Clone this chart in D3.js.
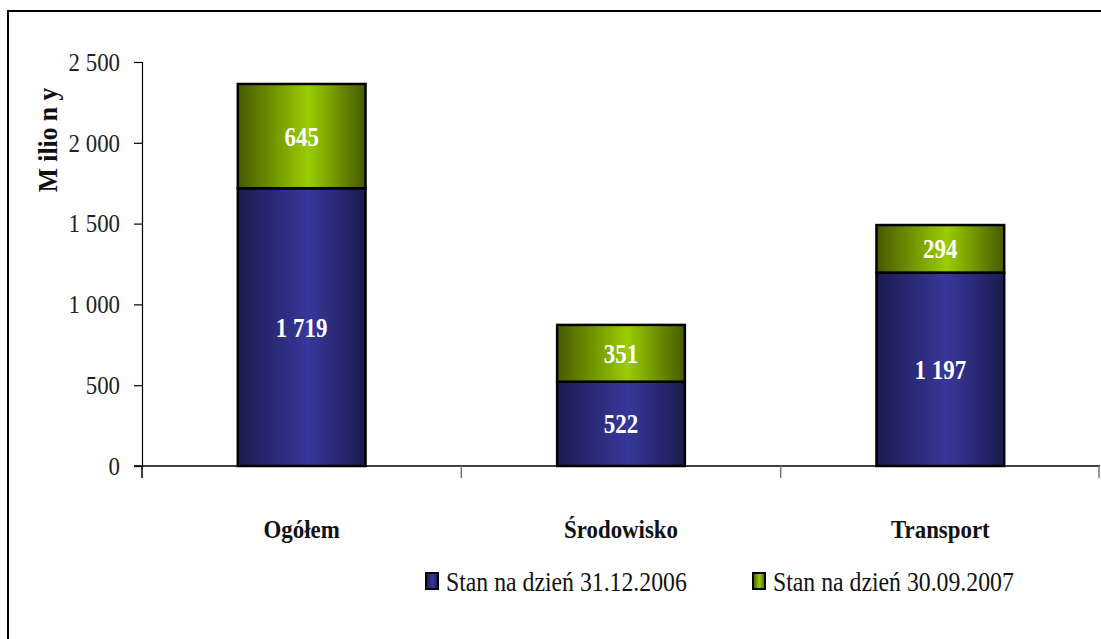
<!DOCTYPE html>
<html>
<head>
<meta charset="utf-8">
<script src="https://cdn.jsdelivr.net/npm/d3@7"></script>
<style>
  body { margin: 0; background: #fff; }
</style>
</head>
<body>
<svg id="chart"></svg>
<script>
// chart data
const categories = ['Ogółem', 'Środowisko', 'Transport'];
const stan2006 = [1719, 522, 1197];
const stan2007 = [645, 351, 294];
const seriesNames = ['Stan na dzień 31.12.2006', 'Stan na dzień 30.09.2007'];
const yTicks = [0, 500, 1000, 1500, 2000, 2500];

const FONT = "'Liberation Serif', serif";

const config = {
    width: 1101, height: 639,
    margin: { left: 142, right: 1, top: 62, bottom: 173 }
};

const svg = d3.select('#chart')
    .attr('width', config.width)
    .attr('height', config.height)
    .style('font-family', FONT);

// gradients for the bars
const defs = svg.append('defs');
function addGradient(id, edge, mid) {
    const g = defs.append('linearGradient').attr('id', id)
        .attr('x1', '0%').attr('x2', '100%').attr('y1', '0%').attr('y2', '0%');
    g.append('stop').attr('offset', '0%').attr('stop-color', edge);
    g.append('stop').attr('offset', '55%').attr('stop-color', mid);
    g.append('stop').attr('offset', '100%').attr('stop-color', edge);
}
addGradient('gBlue', '#1b1b4e', '#37379c');
addGradient('gGreen', '#465a00', '#9acd00');

// outer frame
svg.append('rect')
    .attr('x', 8).attr('y', 11)
    .attr('width', 1110).attr('height', 650)
    .attr('fill', 'none')
    .attr('stroke', '#000')
    .attr('stroke-width', 2);

const innerW = config.width - config.margin.left - config.margin.right;
const innerH = config.height - config.margin.top - config.margin.bottom;

const chartArea = svg.append('g')
    .attr('transform', `translate(${config.margin.left},${config.margin.top})`);

const xScale = d3.scaleBand()
    .domain(categories)
    .range([0, innerW])
    .paddingInner(0.6)
    .paddingOuter(0.3);

const yScale = d3.scaleLinear()
    .domain([0, 2500])
    .range([innerH, 0]);

const fmt = v => d3.format(',')(v).replace(/,/g, ' ');

// narrow serif look: squeeze text horizontally around its anchor
function squeeze(sel, k) {
    sel.each(function() {
        const t = d3.select(this);
        const x = +t.attr('x') || 0;
        t.attr('transform', `translate(${x},0) scale(${k},1) translate(${-x},0)`);
    });
}

// y axis
const yAxis = d3.axisLeft(yScale)
    .tickValues(yTicks)
    .tickFormat(fmt)
    .tickSize(8)
    .tickPadding(14);

const yAxisG = chartArea.append('g').call(yAxis)
    .attr('font-family', FONT)
    .attr('font-size', 26);
yAxisG.select('.domain').attr('stroke', '#000').attr('stroke-width', 1.2);
yAxisG.selectAll('.tick line').attr('stroke', '#000').attr('stroke-width', 1.2);
yAxisG.selectAll('.tick text')
    .attr('fill', '#222')
    .attr('transform', 'translate(-22,0) scale(0.88,1) translate(22,0)');

// stacked data
const stackData = categories.map((c, i) => ({ cat: c, a: stan2006[i], b: stan2007[i] }));
const stack = d3.stack().keys(['a', 'b'])(stackData);
const fills = ['url(#gBlue)', 'url(#gGreen)'];

const layers = chartArea.selectAll('.layer')
    .data(stack)
    .join('g')
    .attr('class', 'layer');

layers.selectAll('rect')
    .data((d, i) => d.map(p => ({ p, i })))
    .join('rect')
    .attr('x', d => xScale(d.p.data.cat))
    .attr('y', d => yScale(d.p[1]))
    .attr('width', xScale.bandwidth())
    .attr('height', d => yScale(d.p[0]) - yScale(d.p[1]))
    .attr('fill', d => fills[d.i])
    .attr('stroke', '#000')
    .attr('stroke-width', 2.5);

layers.selectAll('text')
    .data((d, i) => d.map(p => ({ p, i })))
    .join('text')
    .attr('x', d => xScale(d.p.data.cat) + xScale.bandwidth() / 2)
    .attr('y', d => (yScale(d.p[0]) + yScale(d.p[1])) / 2)
    .attr('dy', '0.35em')
    .attr('text-anchor', 'middle')
    .attr('font-size', 27)
    .attr('font-weight', 'bold')
    .attr('fill', '#fff')
    .text(d => fmt(d.p[1] - d.p[0]))
    .call(squeeze, 0.85);

// x axis line with boundary ticks
const xAxisG = chartArea.append('g').attr('transform', `translate(0,${innerH})`);
xAxisG.append('line')
    .attr('x1', -8).attr('x2', innerW)
    .attr('stroke', '#000').attr('stroke-width', 1.5);
const step = xScale.step();
xAxisG.selectAll('.xtick')
    .data(d3.range(categories.length + 1))
    .join('line')
    .attr('class', 'xtick')
    .attr('x1', i => Math.min(i * step, innerW - 1))
    .attr('x2', i => Math.min(i * step, innerW - 1))
    .attr('y1', 0).attr('y2', 12)
    .attr('stroke', i => i === 0 ? '#000' : '#777')
    .attr('stroke-width', 1.5);

// category labels
chartArea.selectAll('.cat-label')
    .data(categories)
    .join('text')
    .attr('class', 'cat-label')
    .attr('x', d => xScale(d) + xScale.bandwidth() / 2)
    .attr('y', innerH + 72)
    .attr('text-anchor', 'middle')
    .attr('font-size', 26)
    .attr('font-weight', 'bold')
    .attr('fill', '#111')
    .text(d => d)
    .call(squeeze, 0.88);

// y axis title
svg.append('text')
    .attr('transform', 'translate(57,140) rotate(-90) scale(0.95,1)')
    .attr('text-anchor', 'middle')
    .attr('font-size', 27)
    .attr('font-weight', 'bold')
    .attr('fill', '#111')
    .text('M ilio n y');

// legend
const legendX = [425, 752];
const legend = svg.selectAll('.legend')
    .data(seriesNames)
    .join('g')
    .attr('class', 'legend')
    .attr('transform', (d, i) => `translate(${legendX[i]},572)`);

legend.append('rect')
    .attr('x', 1).attr('y', 1)
    .attr('width', 12).attr('height', 16)
    .attr('fill', (d, i) => fills[i])
    .attr('stroke', '#000')
    .attr('stroke-width', 2);

legend.append('text')
    .attr('x', 21).attr('y', 19)
    .attr('font-size', 27)
    .attr('fill', '#111')
    .text(d => d)
    .call(squeeze, 0.88);
</script>
</body>
</html>
